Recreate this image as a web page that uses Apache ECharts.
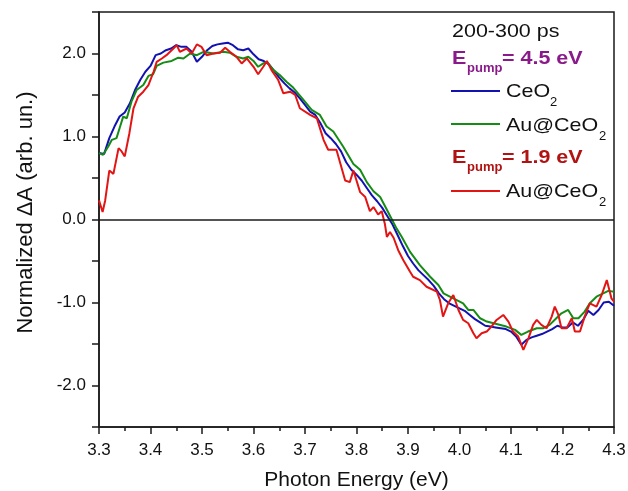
<!DOCTYPE html>
<html>
<head>
<meta charset="utf-8">
<script src="https://cdn.jsdelivr.net/npm/echarts@6/dist/echarts.min.js"></script>
<style>
  html, body { margin: 0; padding: 0; background: #fff; }
  #chart { width: 628px; height: 491px; }
</style>
</head>
<body>
<div id="chart"></div>
<script>
// Transient absorption spectra, 200-300 ps window, normalized
const energyCeO2 = [3.30,3.31,3.32,3.33,3.34,3.35,3.36,3.37,3.38,3.39,3.40,3.41,3.42,3.43,3.44,3.45,3.46,3.47,3.48,3.49,
  3.50,3.51,3.52,3.53,3.54,3.55,3.56,3.57,3.58,3.59,3.60,3.61,3.62,3.63,3.64,3.65,3.66,3.67,3.68,3.69,
  3.70,3.71,3.72,3.73,3.74,3.75,3.76,3.77,3.78,3.79,3.80,3.81,3.82,3.83,3.84,3.85,3.86,3.87,3.88,3.89,
  3.90,3.91,3.92,3.93,3.94,3.95,3.96,3.97,3.98,3.99,4.00,4.01,4.02,4.03,4.04,4.05,4.06,4.07,4.08,4.09,
  4.10,4.11,4.12,4.13,4.14,4.15,4.16,4.17,4.18,4.19,4.20,4.21,4.22,4.23,4.24,4.25,4.26,4.27,4.28,4.29,4.30];
const valueCeO2 = [0.80,0.79,0.98,1.12,1.24,1.29,1.40,1.56,1.68,1.78,1.85,1.98,2.00,2.04,2.06,2.10,2.08,2.08,2.02,1.90,
  1.96,2.04,2.09,2.11,2.12,2.13,2.10,2.05,2.04,2.06,1.99,1.93,1.91,1.87,1.79,1.71,1.64,1.58,1.53,1.46,
  1.38,1.30,1.26,1.16,1.04,0.98,0.91,0.82,0.69,0.60,0.54,0.47,0.38,0.29,0.22,0.14,0.04,-0.06,-0.19,-0.32,
  -0.44,-0.53,-0.61,-0.67,-0.73,-0.80,-0.89,-0.96,-1.01,-1.04,-1.07,-1.10,-1.15,-1.20,-1.24,-1.28,-1.29,-1.30,-1.31,-1.32,
  -1.35,-1.41,-1.51,-1.45,-1.42,-1.40,-1.38,-1.35,-1.32,-1.28,-1.30,-1.30,-1.24,-1.28,-1.21,-1.10,-1.15,-1.09,-1.00,-0.99,-1.04];

const energyAuUV = [3.300,3.308,3.318,3.325,3.334,3.341,3.347,3.354,3.363,3.373,3.386,3.396,3.405,3.412,3.425,3.441,3.454,3.464,3.477,3.490,
  3.503,3.522,3.541,3.554,3.567,3.580,3.590,3.600,3.609,3.619,3.626,3.639,3.651,3.664,3.677,3.697,3.713,3.729,3.742,3.755,
  3.774,3.794,3.807,3.820,3.833,3.846,3.858,3.868,3.878,3.888,3.904,3.923,3.943,3.959,3.969,3.988,4.007,4.017,4.027,4.040,
  4.053,4.072,4.091,4.108,4.120,4.133,4.150,4.163,4.175,4.188,4.198,4.211,4.221,4.231,4.243,4.253,4.266,4.279,4.289,4.300];
const valueAuUV = [0.80,0.78,0.88,0.96,0.98,1.12,1.24,1.22,1.42,1.56,1.62,1.73,1.75,1.85,1.89,1.91,1.95,1.94,2.00,1.98,
  2.02,2.00,2.02,2.01,1.96,1.94,1.96,1.91,1.84,1.88,1.90,1.80,1.74,1.66,1.59,1.44,1.32,1.26,1.12,1.06,
  0.88,0.67,0.60,0.45,0.34,0.27,0.13,0.01,-0.11,-0.21,-0.39,-0.55,-0.69,-0.79,-0.89,-0.95,-1.01,-1.09,-1.09,-1.19,
  -1.23,-1.26,-1.29,-1.33,-1.39,-1.35,-1.31,-1.31,-1.27,-1.19,-1.13,-1.09,-1.19,-1.19,-1.11,-1.01,-0.93,-0.89,-0.86,-0.87];

const energyAuVis = [3.300,3.307,3.312,3.320,3.328,3.338,3.344,3.350,3.359,3.367,3.376,3.386,3.396,3.406,3.412,3.422,3.431,3.441,3.451,3.457,
  3.470,3.480,3.490,3.499,3.509,3.522,3.535,3.545,3.554,3.567,3.577,3.587,3.600,3.609,3.619,3.626,3.635,3.648,3.658,3.671,
  3.681,3.690,3.710,3.723,3.736,3.745,3.761,3.778,3.787,3.794,3.807,3.817,3.826,3.833,3.842,3.849,3.855,3.859,3.865,3.872,
  3.881,3.891,3.904,3.910,3.923,3.936,3.956,3.962,3.968,3.978,3.988,3.998,4.007,4.017,4.027,4.033,4.043,4.053,4.062,4.072,
  4.085,4.095,4.104,4.114,4.124,4.134,4.143,4.150,4.159,4.169,4.179,4.185,4.192,4.198,4.208,4.218,4.224,4.234,4.243,4.253,
  4.266,4.276,4.286,4.295,4.300];
const valueAuVis = [0.23,0.09,0.23,0.59,0.55,0.86,0.82,0.76,1.04,1.34,1.48,1.54,1.62,1.78,1.90,1.94,1.98,2.04,2.10,2.02,
  2.06,2.00,2.11,2.08,1.98,2.00,2.01,2.07,2.02,1.96,1.88,1.94,1.84,1.75,1.84,1.91,1.80,1.68,1.52,1.54,
  1.50,1.34,1.26,1.22,0.96,0.84,0.84,0.47,0.45,0.59,0.33,0.27,0.10,0.15,0.06,0.10,-0.05,-0.21,-0.15,-0.22,
  -0.37,-0.49,-0.63,-0.69,-0.73,-0.81,-0.87,-0.97,-1.17,-1.01,-0.91,-1.09,-1.21,-1.25,-1.37,-1.43,-1.37,-1.35,-1.29,-1.21,
  -1.15,-1.23,-1.35,-1.41,-1.57,-1.43,-1.27,-1.21,-1.27,-1.31,-1.17,-1.05,-1.15,-1.31,-1.31,-1.19,-1.35,-1.35,-1.17,-1.01,
  -1.05,-0.91,-0.73,-0.95,-0.99];

const xTicks = { min: 3.3, max: 4.3, step: 0.1 };
const yTicks = { min: -2.5, max: 2.5, step: 0.5 };

const COLORS = { ceo2: '#1212b0', auUV: '#168c16', auVis: '#e31414', uvHead: '#8a1a8a', visHead: '#b11212' };
const FONT = '"Liberation Sans", Arial, sans-serif';

function zip(xs, ys) { return xs.map((x, i) => [x, ys[i]]); }

const chart = echarts.init(document.getElementById('chart'), null, { renderer: 'canvas' });

// Text-based legend block in the upper right of the plot
const SX = 1.13;
function txt(x, y, text, size, color, bold) {
  return {
    type: 'text', x: x, y: y, scaleX: size > 15 ? SX : 1, silent: true,
    style: { text: text, fill: color, font: (bold ? 'bold ' : '') + size + 'px ' + FONT,
      textAlign: 'left', textVerticalAlign: 'middle' }
  };
}
function seg(x1, x2, y, color) {
  return { type: 'line', silent: true, shape: { x1: x1, y1: y, x2: x2, y2: y },
    style: { stroke: color, lineWidth: 2 } };
}
const legendGraphics = [
  txt(452, 32, '200-300 ps', 19, '#111', false),
  txt(452, 59, 'E', 19, COLORS.uvHead, true),
  txt(467, 68, 'pump', 13, COLORS.uvHead, true),
  txt(502, 59, '= 4.5 eV', 19, COLORS.uvHead, true),
  seg(451, 500, 91, COLORS.ceo2),
  txt(506, 92, 'CeO', 19, '#111', false),
  txt(550, 102, '2', 13, '#111', false),
  seg(451, 500, 124, COLORS.auUV),
  txt(506, 126, 'Au@CeO', 19, '#111', false),
  txt(599, 136, '2', 13, '#111', false),
  txt(452, 158, 'E', 19, COLORS.visHead, true),
  txt(467, 167, 'pump', 13, COLORS.visHead, true),
  txt(502, 158, '= 1.9 eV', 19, COLORS.visHead, true),
  seg(451, 500, 191, COLORS.auVis),
  txt(506, 192, 'Au@CeO', 19, '#111', false),
  txt(599, 202, '2', 13, '#111', false)
];

const axisColor = '#1a1a1a';
const option = {
  animation: false,
  backgroundColor: '#fff',
  grid: { left: 99, right: 14, top: 12, bottom: 64, outerBoundsMode: 'none', containLabel: false,
    show: true, borderColor: axisColor, borderWidth: 1.5, backgroundColor: 'transparent' },
  xAxis: {
    type: 'value', min: xTicks.min, max: xTicks.max, interval: xTicks.step,
    name: 'Photon Energy (eV)', nameLocation: 'middle', nameGap: 43,
    nameTextStyle: { fontFamily: FONT, fontSize: 21, color: '#111' },
    axisLine: { onZero: false, lineStyle: { color: axisColor, width: 1.5 } },
    axisTick: { inside: false, length: 7, lineStyle: { color: axisColor, width: 1.5 } },
    minorTick: { show: true, splitNumber: 2, length: 4, lineStyle: { color: axisColor, width: 1.5 } },
    splitLine: { show: false },
    axisLabel: { margin: 15, fontFamily: FONT, fontSize: 17, color: '#111', showMinLabel: true, showMaxLabel: true,
      formatter: v => v.toFixed(1) }
  },
  yAxis: {
    type: 'value', min: yTicks.min, max: yTicks.max, interval: yTicks.step,
    name: 'Normalized \u0394A (arb. un.)', nameLocation: 'middle', nameGap: 62,
    nameTextStyle: { fontFamily: FONT, fontSize: 22, color: '#111', padding: [0, 0, 0, 14] },
    axisLine: { onZero: false, lineStyle: { color: axisColor, width: 1.5 } },
    axisTick: { inside: false, length: 7, lineStyle: { color: axisColor, width: 1.5 } },
    splitLine: { show: false },
    axisLabel: { margin: 13, fontFamily: FONT, fontSize: 17, color: '#111',
      formatter: v => Math.abs(v - Math.round(v)) < 1e-6 ? v.toFixed(1) : '' }
  },
  series: [
    { name: 'CeO2 (4.5 eV)', type: 'line', data: zip(energyCeO2, valueCeO2), showSymbol: false, smooth: false,
      lineStyle: { color: COLORS.ceo2, width: 2 }, itemStyle: { color: COLORS.ceo2 },
      markLine: { silent: true, symbol: ['none', 'none'], label: { show: false },
        lineStyle: { color: '#1a1a1a', width: 1.5, type: 'solid' }, data: [{ yAxis: 0 }] } },
    { name: 'Au@CeO2 (4.5 eV)', type: 'line', data: zip(energyAuUV, valueAuUV), showSymbol: false,
      lineStyle: { color: COLORS.auUV, width: 2 }, itemStyle: { color: COLORS.auUV } },
    { name: 'Au@CeO2 (1.9 eV)', type: 'line', data: zip(energyAuVis, valueAuVis), showSymbol: false,
      lineStyle: { color: COLORS.auVis, width: 2 }, itemStyle: { color: COLORS.auVis } }
  ],
  graphic: legendGraphics
};
chart.setOption(option);
</script>
</body>
</html>
